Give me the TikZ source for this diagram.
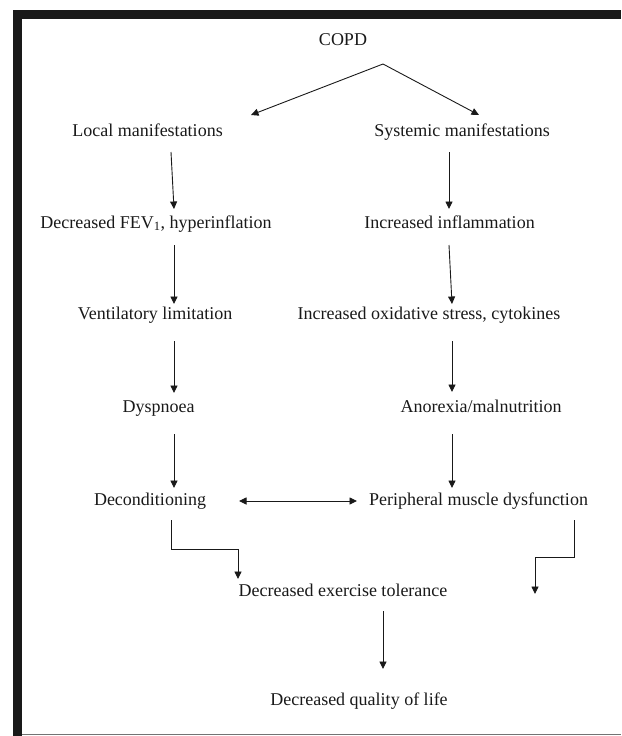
\documentclass[tikz,border=0pt]{standalone}
\usepackage{fontspec}
\setmainfont{Liberation Serif}
\usetikzlibrary{arrows.meta,calc}
\begin{document}
\begin{tikzpicture}[x=1pt,y=-1pt,
  lbl/.style={anchor=base,inner sep=0pt,font=\fontsize{18}{20}\selectfont,text=black!90},
  arr/.style={line width=0.9pt,draw=black!90,-{Triangle[length=7.5pt,width=7pt]}},
  darr/.style={line width=0.9pt,draw=black!90,{Triangle[length=7.5pt,width=7pt]}-{Triangle[length=7.5pt,width=7pt]}}]
\useasboundingbox (0,0) rectangle (621,736);
% frame
\fill[black!90] (13,10) rectangle (621,19);
\fill[black!90] (13,10) rectangle (22,736);
\draw[black!55,line width=0.8pt] (22,734) -- (621,734);
% nodes
\node[lbl] (copd) at (343,45) {COPD};
\node[lbl] (local) at (147.5,136) {Local manifestations};
\node[lbl] (sys) at (462,136) {Systemic manifestations};
\node[lbl] (fev) at (156,228) {Decreased FEV\textsubscript{1}, hyperinflation};
\node[lbl] (infl) at (449.5,228) {Increased inflammation};
\node[lbl] (vent) at (155,319) {Ventilatory limitation};
\node[lbl] (oxid) at (429,319) {Increased oxidative stress, cytokines};
\node[lbl] (dysp) at (158.5,412) {Dyspnoea};
\node[lbl] (anor) at (481,412) {Anorexia/malnutrition};
\node[lbl] (decond) at (150,505) {Deconditioning};
\node[lbl] (perif) at (478.5,505) {Peripheral muscle dysfunction};
\node[lbl] (det) at (343,596) {Decreased exercise tolerance};
\node[lbl] (dql) at (359,705) {Decreased quality of life};
\coordinate (apex) at ($(copd.base)+(40,19)$);
\coordinate (rtip) at (535,594);
% COPD split
\draw[arr] (apex) -- ($(local.base)+(103.5,-21)$);
\draw[arr] (apex) -- ($(sys.base)+(17,-21)$);
% left column
\draw[arr] ($(local.base)+(23.5,16)$) -- ($(fev.base)+(18,-19)$);
\draw[arr] ($(fev.base)+(18,17)$) -- ($(vent.base)+(19,-15)$);
\draw[arr] ($(vent.base)+(19,22)$) -- ($(dysp.base)+(15.5,-19)$);
\draw[arr] ($(dysp.base)+(15.5,22)$) -- ($(decond.base)+(24,-17)$);
\draw[arr] ($(decond.base)+(21,15)$) -- ++(0,29) -| ($(det.base)+(-105,-17)$);
% right column
\draw[arr] ($(sys.base)+(-13,16)$) -- ($(infl.base)+(-0.5,-19)$);
\draw[arr] ($(infl.base)+(-0.5,17)$) -- ($(oxid.base)+(23,-15)$);
\draw[arr] ($(oxid.base)+(23,22)$) -- ($(anor.base)+(-29,-20)$);
\draw[arr] ($(anor.base)+(-29,22)$) -- ($(perif.base)+(-26.5,-17)$);
\draw[arr] ($(perif.base)+(95.5,15)$) -- ++(0,37) -| (rtip);
% cross link
\draw[darr] ($(decond.base)+(89,-4)$) -- ($(perif.base)+(-121.5,-4)$);
% bottom
\draw[arr] ($(det.base)+(40,15)$) -- ($(dql.base)+(24,-36)$);
\end{tikzpicture}
\end{document}
